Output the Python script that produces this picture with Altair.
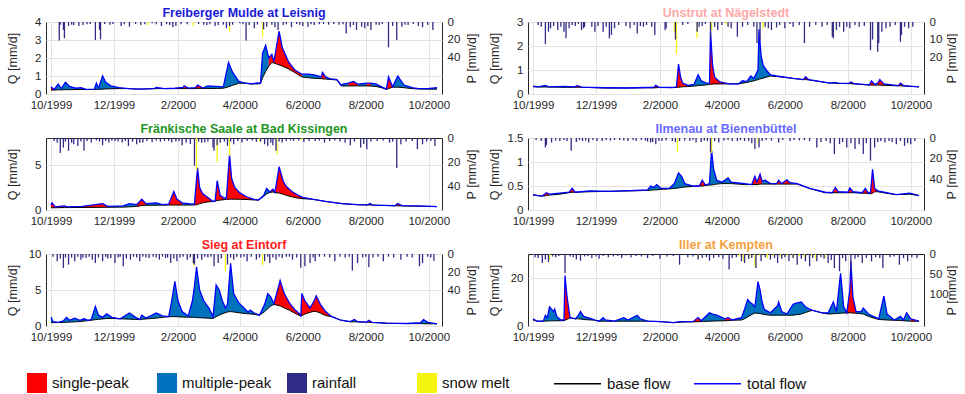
import altair as alt
import pandas as pd

START = pd.Timestamp("1999-10-01")
XTICK_MONTHS = [(1999, 10), (1999, 12), (2000, 2), (2000, 4), (2000, 6), (2000, 8), (2000, 10)]

KINDS = ["single-peak", "multiple-peak", "rainfall", "snow melt"]
KIND_COLORS = ["#FF0000", "#0072BD", "#312A86", "#F5F50F"]
LINES = ["base flow", "total flow"]
LINE_COLORS = ["#000000", "#0000FF"]

TITLES = ["Freiberger Mulde at Leisnig", "Unstrut at Nägelstedt", "Fränkische Saale at Bad Kissingen",
          "Ilmenau at Bienenbüttel", "Sieg at Eintorf", "Iller at Kempten"]
TITLE_COLORS = ["#1A1AD8", "#FFA8A8", "#1F961F", "#6A6AFF", "#FF1A1A", "#F5A040"]
Q_MAX = [4, 3, 8, 1.5, 10, 30]
Q_TICKS = [[0, 1, 2, 3, 4], [0, 1, 2, 3], [0, 5], [0, 0.5, 1, 1.5], [0, 5, 10], [0, 20]]
P_MAX = [82, 41, 60, 70, 80, 180]
P_TICKS = [[0, 20, 40], [0, 10, 20], [0, 20, 40], [0, 20, 40], [0, 20, 40], [0, 50, 100]]

# ---- Freiberger Mulde at Leisnig (days since 1 Oct 1999) ----
MULDE_DAY = [0, 3, 7, 10, 14, 18, 24, 29, 34, 42, 44, 46, 50, 53, 58, 66, 75, 85, 100, 102, 110, 120, 128, 129, 133, 140, 142, 147, 152, 160, 167, 172, 176, 182, 187, 194, 200, 203, 205, 208, 211, 214, 216, 221, 224, 230, 236, 243, 250, 256, 262, 263, 266, 270, 277, 281, 283, 288, 293, 297, 306, 310, 315, 322, 325, 327, 331, 336, 342, 350, 356, 365, 374]
MULDE_Q = [0.40, 0.25, 0.55, 0.30, 0.65, 0.42, 0.32, 0.35, 0.26, 0.27, 0.60, 0.32, 1.00, 0.65, 0.45, 0.35, 0.30, 0.27, 0.30, 0.36, 0.30, 0.32, 0.37, 0.45, 0.33, 0.35, 0.50, 0.33, 0.45, 0.42, 0.40, 1.75, 1.20, 0.70, 0.62, 0.56, 0.62, 0.60, 2.25, 2.70, 2.00, 2.20, 1.80, 3.50, 2.60, 1.80, 1.35, 1.10, 1.10, 1.05, 0.95, 1.20, 0.95, 0.85, 0.80, 0.50, 0.55, 0.60, 0.70, 0.55, 0.60, 0.60, 0.55, 0.35, 0.27, 0.95, 0.40, 1.00, 0.50, 0.35, 0.30, 0.30, 0.35]
MULDE_BASE = [0.22, 0.22, 0.23, 0.23, 0.24, 0.24, 0.25, 0.25, 0.25, 0.25, 0.25, 0.26, 0.27, 0.28, 0.29, 0.30, 0.30, 0.27, 0.30, 0.30, 0.30, 0.30, 0.30, 0.30, 0.30, 0.30, 0.31, 0.31, 0.31, 0.31, 0.32, 0.40, 0.48, 0.60, 0.60, 0.56, 0.56, 0.58, 0.90, 1.25, 1.55, 1.75, 1.72, 1.62, 1.55, 1.40, 1.20, 0.95, 0.90, 0.87, 0.85, 0.84, 0.83, 0.81, 0.78, 0.46, 0.44, 0.45, 0.45, 0.45, 0.45, 0.44, 0.42, 0.32, 0.25, 0.30, 0.38, 0.38, 0.35, 0.30, 0.28, 0.27, 0.27]
MULDE_SINGLE = [(0, 3), (100, 110), (120, 133), (140, 147), (211, 243), (262, 266), (288, 297), (306, 310), (325, 331)]
MULDE_RAIN_DAY = [8, 9, 12, 13, 17, 20, 22, 27, 31, 35, 38, 43, 47, 48, 52, 57, 60, 68, 71, 76, 82, 87, 91, 98, 102, 107, 112, 115, 118, 121, 126, 132, 143, 148, 151, 154, 159, 162, 167, 170, 173, 176, 183, 186, 189, 192, 197, 200, 206, 209, 214, 217, 220, 225, 228, 233, 238, 241, 244, 249, 252, 255, 260, 264, 269, 274, 279, 283, 286, 290, 293, 296, 301, 304, 307, 310, 315, 318, 321, 327, 331, 335, 340, 343, 346, 351, 356, 360, 365, 370]
MULDE_RAIN = [21, 3, 9, 18.6, 4.5, 3, 3.4, 4.5, 3.4, 2.5, 2.3, 20.5, 9, 19.8, 2.3, 3, 2.3, 4.5, 2.5, 5.3, 2.3, 3.4, 2.5, 1.5, 2.5, 4.5, 2.5, 3.4, 6, 4.5, 2.5, 2.5, 2.3, 3, 3.4, 2.5, 4.5, 3.4, 3, 7.2, 4.5, 3, 1.5, 2.5, 21, 3.4, 7, 3, 8.4, 5.3, 3, 6, 9, 3.4, 2.5, 6, 2.3, 3, 4.5, 5.3, 2.5, 3.4, 2.5, 2.3, 3, 2.3, 3, 2.5, 13, 6, 3.4, 9, 5.3, 7, 4.5, 9, 3, 3.4, 2.3, 28.9, 4.5, 20.5, 5.3, 3, 3.4, 2.3, 4.5, 6, 3.4, 9]
MULDE_SNOW_DAY = [94, 138, 173, 205]
MULDE_SNOW = [3.4, 4.5, 11, 16.7]

# ---- Unstrut at Nägelstedt ----
UNSTRUT_DAY = [0, 5, 12, 15, 30, 40, 43, 47, 70, 90, 110, 117, 119, 122, 135, 139, 141, 143, 145, 150, 156, 160, 163, 168, 171, 172, 174, 176, 181, 190, 199, 203, 207, 211, 214, 218, 219, 221, 223, 226, 230, 236, 252, 262, 264, 267, 288, 292, 296, 306, 308, 311, 326, 328, 331, 334, 336, 340, 354, 356, 359, 374]
UNSTRUT_Q = [0.33, 0.30, 0.36, 0.30, 0.32, 0.30, 0.35, 0.29, 0.26, 0.25, 0.27, 0.27, 0.36, 0.28, 0.27, 0.30, 1.25, 0.70, 0.45, 0.36, 0.40, 0.80, 0.55, 0.45, 0.45, 2.60, 1.20, 0.70, 0.50, 0.42, 0.42, 0.55, 0.52, 0.75, 0.65, 1.00, 2.70, 1.60, 1.20, 1.00, 0.80, 0.75, 0.65, 0.60, 0.72, 0.60, 0.45, 0.48, 0.45, 0.44, 0.50, 0.43, 0.38, 0.55, 0.40, 0.45, 0.60, 0.42, 0.35, 0.45, 0.35, 0.30]
UNSTRUT_BASE = [0.30, 0.29, 0.29, 0.29, 0.28, 0.28, 0.28, 0.28, 0.25, 0.25, 0.26, 0.26, 0.26, 0.27, 0.27, 0.27, 0.28, 0.29, 0.30, 0.31, 0.33, 0.35, 0.36, 0.38, 0.40, 0.40, 0.41, 0.42, 0.42, 0.42, 0.42, 0.45, 0.48, 0.52, 0.55, 0.60, 0.62, 0.64, 0.66, 0.70, 0.75, 0.73, 0.65, 0.60, 0.60, 0.59, 0.45, 0.45, 0.44, 0.43, 0.43, 0.42, 0.37, 0.37, 0.37, 0.37, 0.37, 0.36, 0.34, 0.34, 0.33, 0.30]
UNSTRUT_SINGLE = [(40, 47), (117, 122), (139, 150), (171, 190), (262, 267), (306, 311), (326, 331), (334, 340), (354, 359)]
UNSTRUT_RAIN_DAY = [5, 8, 12, 15, 17, 20, 24, 27, 30, 32, 35, 38, 41, 44, 47, 49, 50, 57, 60, 63, 68, 71, 74, 76, 79, 83, 90, 94, 98, 101, 104, 107, 110, 115, 118, 128, 129, 138, 145, 150, 159, 161, 164, 167, 172, 176, 179, 183, 189, 192, 198, 203, 208, 214, 217, 220, 225, 228, 231, 236, 239, 244, 249, 252, 258, 263, 268, 274, 280, 285, 290, 291, 294, 297, 301, 304, 307, 312, 316, 321, 327, 329, 334, 335, 338, 342, 346, 351, 356, 357, 360, 364, 368]
UNSTRUT_RAIN = [1.7, 2.7, 12.5, 5.5, 3.6, 2.3, 4.6, 2.7, 5.5, 9.3, 3.6, 1.7, 2.3, 1.1, 4.6, 3.6, 2.7, 2.7, 5.5, 2.3, 5.5, 2.7, 9.3, 7.4, 3.6, 1.7, 2.3, 3.6, 1.7, 6.5, 2.3, 2.7, 1.7, 2.7, 7.4, 4.6, 3.6, 10, 1.7, 1.1, 5.5, 2.7, 2.3, 1.1, 9.3, 2.7, 4.6, 1.7, 2.7, 3.6, 8.4, 2.7, 1.7, 2.7, 12, 10, 2.7, 3.6, 4.6, 3.1, 1.7, 3.6, 1.1, 2.7, 1.7, 12, 2.7, 1.7, 2.7, 1.7, 8.4, 9.3, 4.6, 2.7, 5.5, 2.7, 3.6, 1.7, 2.7, 2.3, 16, 10, 17, 12, 5.5, 3.6, 2.7, 1.7, 11.2, 7.4, 2.7, 3.6, 2.7]
UNSTRUT_SNOW_DAY = [137, 139, 159, 173, 187, 223]
UNSTRUT_SNOW = [5.5, 17.9, 9.3, 4.6, 1.5, 3.6]

# ---- Fränkische Saale at Bad Kissingen ----
SAALE_DAY = [0, 1, 4, 13, 16, 30, 50, 55, 70, 76, 83, 88, 92, 102, 108, 114, 119, 122, 127, 137, 139, 142, 144, 147, 152, 157, 159, 161, 164, 168, 170, 173, 175, 178, 183, 189, 196, 201, 206, 209, 212, 215, 217, 221, 225, 228, 234, 240, 244, 253, 266, 282, 297, 307, 309, 312, 333, 336, 340, 355, 374]
SAALE_Q = [0.55, 0.80, 0.35, 0.45, 0.35, 0.40, 0.70, 0.40, 0.45, 0.70, 0.60, 1.20, 0.70, 0.80, 0.60, 0.65, 2.05, 1.20, 0.80, 0.65, 0.70, 4.70, 2.50, 1.80, 1.40, 0.95, 1.00, 3.25, 1.60, 1.30, 1.40, 6.20, 3.50, 2.50, 1.90, 1.50, 1.20, 1.10, 1.60, 2.40, 2.00, 2.30, 1.95, 4.80, 3.20, 2.60, 2.00, 1.60, 1.40, 1.20, 0.95, 0.70, 0.60, 0.58, 0.72, 0.55, 0.48, 0.72, 0.48, 0.45, 0.38]
SAALE_BASE = [0.25, 0.25, 0.25, 0.27, 0.27, 0.28, 0.30, 0.30, 0.32, 0.35, 0.40, 0.50, 0.52, 0.53, 0.54, 0.55, 0.55, 0.55, 0.55, 0.55, 0.56, 0.60, 0.70, 0.80, 0.90, 0.95, 1.00, 1.05, 1.10, 1.15, 1.18, 1.20, 1.20, 1.20, 1.19, 1.17, 1.12, 1.10, 1.50, 1.80, 1.95, 2.00, 1.95, 1.88, 1.75, 1.62, 1.45, 1.30, 1.25, 1.20, 0.95, 0.70, 0.58, 0.56, 0.56, 0.55, 0.46, 0.46, 0.45, 0.43, 0.38]
SAALE_SINGLE = [(0, 16), (30, 55), (83, 92), (114, 127), (139, 157), (159, 168), (170, 201), (212, 253), (307, 312), (333, 340)]
SAALE_RAIN_DAY = [3, 6, 9, 12, 14, 17, 20, 22, 26, 29, 32, 35, 39, 44, 47, 50, 53, 56, 59, 62, 65, 69, 72, 75, 79, 83, 86, 89, 93, 98, 102, 106, 110, 114, 117, 121, 124, 127, 131, 135, 139, 143, 146, 149, 152, 157, 158, 161, 164, 168, 171, 174, 177, 181, 185, 190, 195, 199, 203, 207, 210, 213, 215, 218, 221, 224, 228, 232, 235, 240, 245, 250, 256, 260, 265, 270, 275, 280, 285, 290, 294, 300, 303, 306, 310, 316, 322, 328, 331, 335, 339, 344, 350, 355, 360, 364, 368, 372]
SAALE_RAIN = [2.5, 4, 12.6, 8, 3, 10.7, 4, 5.2, 6.6, 3, 10.7, 2.5, 3.8, 2, 3, 6, 2.5, 3.8, 2, 2.5, 3, 3.8, 2.5, 6.6, 3, 5.2, 4, 3.8, 2.5, 3.3, 2, 3, 2.5, 2.5, 3.8, 3, 2.5, 6, 4, 5, 23, 3, 4, 3.8, 3, 8, 10.7, 6, 4, 3, 6.6, 3, 5.2, 2.5, 3.8, 2.5, 2, 3.3, 3, 5.2, 6.6, 4, 6, 10.7, 3, 3.8, 2.5, 2, 2.5, 2, 3.3, 2.5, 2.5, 2, 3.8, 2.5, 2, 3, 4, 6, 3, 8, 5, 9.3, 3, 2.5, 2, 3.8, 3, 25, 5.2, 3, 2.5, 9.3, 5.2, 3, 2.5, 6.6]
SAALE_SNOW_DAY = [141, 161, 173, 202, 219, 243]
SAALE_SNOW = [27, 20, 15, 2.5, 13.4, 1.6]

# ---- Ilmenau at Bienenbüttel ----
ILMENAU_DAY = [0, 5, 9, 13, 16, 26, 35, 38, 41, 55, 75, 100, 111, 114, 117, 120, 124, 132, 137, 141, 144, 147, 155, 161, 164, 167, 171, 173, 175, 178, 183, 189, 192, 205, 212, 215, 217, 220, 222, 225, 230, 236, 238, 241, 246, 249, 256, 268, 283, 290, 293, 296, 305, 307, 310, 319, 322, 325, 327, 329, 331, 334, 345, 352, 365, 374]
ILMENAU_Q = [0.32, 0.30, 0.29, 0.36, 0.33, 0.35, 0.37, 0.45, 0.37, 0.40, 0.39, 0.41, 0.42, 0.50, 0.47, 0.53, 0.45, 0.45, 0.55, 0.77, 0.70, 0.55, 0.50, 0.50, 0.62, 0.52, 0.55, 1.25, 0.85, 0.62, 0.58, 0.67, 0.58, 0.55, 0.53, 0.70, 0.58, 0.75, 0.60, 0.62, 0.55, 0.55, 0.62, 0.55, 0.63, 0.57, 0.55, 0.45, 0.37, 0.36, 0.47, 0.38, 0.37, 0.46, 0.38, 0.36, 0.45, 0.35, 0.37, 0.85, 0.45, 0.40, 0.35, 0.32, 0.35, 0.30]
ILMENAU_BASE = [0.31, 0.30, 0.29, 0.30, 0.31, 0.33, 0.36, 0.37, 0.37, 0.38, 0.39, 0.40, 0.41, 0.41, 0.42, 0.42, 0.43, 0.44, 0.45, 0.46, 0.47, 0.48, 0.49, 0.50, 0.50, 0.51, 0.52, 0.52, 0.53, 0.54, 0.55, 0.55, 0.55, 0.53, 0.53, 0.53, 0.53, 0.54, 0.54, 0.54, 0.54, 0.54, 0.54, 0.54, 0.54, 0.54, 0.54, 0.45, 0.36, 0.36, 0.36, 0.36, 0.36, 0.36, 0.36, 0.35, 0.35, 0.34, 0.34, 0.35, 0.38, 0.38, 0.34, 0.32, 0.33, 0.30]
ILMENAU_SINGLE = [(9, 16), (35, 41), (161, 167), (212, 222), (236, 249), (290, 296), (305, 310), (319, 325), (327, 334)]
ILMENAU_RAIN_DAY = [3, 8, 12, 13, 18, 22, 26, 30, 33, 37, 42, 45, 48, 51, 54, 58, 62, 67, 71, 75, 79, 84, 88, 92, 97, 100, 105, 109, 111, 114, 116, 119, 122, 125, 129, 135, 138, 142, 147, 152, 155, 158, 163, 166, 169, 172, 176, 180, 185, 189, 193, 198, 201, 205, 209, 212, 215, 219, 222, 226, 231, 238, 242, 249, 253, 258, 263, 268, 275, 279, 284, 288, 292, 297, 300, 304, 308, 312, 316, 320, 323, 327, 331, 334, 337, 341, 345, 348, 352, 356, 360, 363, 366, 370]
ILMENAU_RAIN = [2, 3, 9.2, 7, 4.4, 2.5, 2.9, 2, 3, 12.4, 3.8, 2, 2.9, 2.5, 4.4, 2, 3, 2.9, 2, 2.5, 1.9, 2, 2.5, 2.9, 2, 3, 1.9, 2.5, 3.5, 4.4, 4, 6, 3, 2.9, 2.5, 3, 4, 2.9, 2.5, 3, 2, 4.4, 3.8, 2.5, 3, 14, 3, 4.4, 2.5, 2, 2.9, 3, 2, 2.9, 3, 5, 10.8, 9.2, 3, 2, 2.5, 4.4, 2, 2.9, 2, 2.5, 2, 3, 9.2, 4, 3, 5, 15.6, 6, 4, 9.2, 5, 10.8, 6, 15.6, 5, 22, 9.2, 4, 3, 4.4, 3, 4, 6, 3, 7.6, 5, 6, 3]
ILMENAU_SNOW_DAY = [140, 173, 205, 218]
ILMENAU_SNOW = [13.3, 14.6, 2, 5]

# ---- Sieg at Eintorf ----
SIEG_DAY = [0, 2, 7, 12, 15, 18, 23, 28, 32, 36, 39, 43, 46, 50, 54, 59, 67, 76, 82, 86, 88, 92, 102, 108, 114, 117, 120, 123, 127, 133, 137, 139, 141, 144, 148, 153, 157, 160, 163, 166, 169, 171, 174, 177, 182, 187, 191, 193, 197, 202, 207, 210, 213, 216, 222, 226, 231, 236, 240, 242, 243, 246, 251, 255, 257, 261, 266, 272, 281, 290, 294, 297, 306, 308, 311, 325, 345, 358, 361, 365, 374]
SIEG_Q = [1.25, 0.60, 0.50, 0.70, 1.20, 0.80, 1.10, 0.80, 1.00, 0.80, 0.90, 2.70, 1.50, 1.20, 1.70, 1.20, 1.00, 1.80, 1.20, 0.90, 1.50, 1.10, 1.80, 1.40, 1.30, 3.50, 6.20, 3.50, 2.00, 1.40, 3.50, 5.50, 8.20, 5.00, 3.50, 2.50, 1.30, 5.70, 5.00, 3.50, 2.50, 3.00, 8.70, 4.50, 3.20, 2.50, 1.90, 2.20, 1.80, 1.50, 3.00, 4.50, 4.00, 3.10, 6.30, 4.50, 3.20, 2.30, 1.80, 1.40, 4.50, 3.50, 2.50, 3.50, 4.20, 3.00, 2.00, 1.30, 0.80, 0.60, 0.90, 0.60, 0.55, 0.80, 0.50, 0.40, 0.35, 0.45, 0.90, 0.50, 0.30]
SIEG_BASE = [0.47, 0.47, 0.48, 0.50, 0.52, 0.54, 0.58, 0.62, 0.68, 0.75, 0.80, 0.88, 0.93, 0.98, 1.05, 1.05, 1.00, 0.95, 0.92, 0.90, 0.93, 0.98, 1.10, 1.20, 1.28, 1.30, 1.30, 1.28, 1.25, 1.22, 1.20, 1.20, 1.18, 1.15, 1.12, 1.08, 1.05, 1.30, 1.50, 1.70, 1.85, 1.95, 2.00, 1.95, 1.85, 1.75, 1.70, 1.68, 1.60, 1.50, 2.00, 2.40, 2.80, 3.00, 2.80, 2.50, 2.20, 1.80, 1.50, 1.40, 1.45, 1.65, 1.90, 2.05, 2.00, 1.80, 1.45, 1.30, 0.80, 0.58, 0.58, 0.57, 0.53, 0.53, 0.50, 0.38, 0.33, 0.32, 0.32, 0.31, 0.30]
SIEG_SINGLE = [(216, 272), (306, 311)]
SIEG_RAIN_DAY = [2, 6, 9, 12, 14, 17, 20, 23, 26, 29, 31, 34, 37, 40, 43, 46, 50, 53, 55, 58, 62, 65, 67, 70, 73, 77, 80, 83, 86, 89, 92, 95, 99, 102, 105, 108, 111, 113, 116, 119, 122, 125, 128, 132, 135, 138, 139, 142, 146, 149, 152, 155, 158, 162, 165, 171, 174, 177, 180, 184, 187, 190, 194, 199, 202, 207, 210, 212, 215, 218, 221, 224, 228, 231, 234, 238, 242, 246, 251, 254, 256, 260, 265, 270, 275, 280, 285, 289, 292, 297, 302, 305, 308, 312, 317, 322, 327, 332, 339, 345, 350, 357, 360, 365, 368, 371]
SIEG_RAIN = [3, 8, 5, 15.4, 4, 11.8, 4, 8, 3, 6.3, 4, 4.4, 3, 6.3, 10, 4, 8, 3, 5, 4.4, 10, 4, 3, 13.6, 5, 6.3, 3, 4, 8, 3, 4, 4.4, 3, 4, 6.3, 3, 4.4, 4, 10, 5, 8, 4, 3, 6.3, 4, 10, 11.8, 5, 6.3, 3, 4, 3, 13.6, 10, 5, 11.8, 4, 6.3, 3, 4, 3, 8, 3, 6.3, 4, 8, 3, 10, 4, 6.3, 3, 4.4, 3, 3, 6.3, 4, 15.4, 13.6, 10, 4, 8, 3, 3, 4, 8, 3, 4, 3, 18.4, 10, 4, 3, 14.7, 4, 3, 8, 3, 4, 6.3, 3, 4, 13.6, 10, 3, 4, 7.4]
SIEG_SNOW_DAY = [138, 169, 180, 205]
SIEG_SNOW = [12.5, 19, 3, 12.5]

# ---- Iller at Kempten ----
ILLER_DAY = [0, 4, 10, 12, 14, 15, 16, 18, 20, 21, 23, 27, 30, 31, 33, 35, 36, 41, 44, 46, 49, 57, 60, 64, 68, 70, 79, 88, 92, 101, 104, 111, 124, 136, 142, 155, 160, 163, 171, 174, 178, 186, 189, 193, 202, 205, 208, 210, 213, 215, 218, 220, 222, 224, 230, 237, 238, 241, 246, 252, 255, 260, 264, 268, 271, 280, 286, 291, 294, 298, 301, 304, 307, 308, 310, 313, 318, 320, 325, 335, 340, 343, 350, 356, 359, 362, 366, 374]
ILLER_Q = [3.0, 2.0, 2.0, 4.5, 3.5, 6.0, 8.0, 7.0, 6.0, 7.0, 4.0, 2.5, 2.5, 21.0, 12.0, 6.0, 3.5, 3.0, 4.5, 6.0, 4.0, 3.0, 2.5, 2.0, 3.5, 2.5, 2.0, 3.5, 2.5, 4.5, 3.0, 2.0, 1.8, 1.4, 1.8, 1.8, 3.5, 2.2, 5.5, 5.0, 4.5, 3.0, 3.5, 2.5, 3.5, 7.0, 11.0, 10.0, 9.0, 8.0, 18.5, 15.0, 10.0, 7.0, 5.5, 8.5, 10.0, 6.0, 5.0, 9.0, 9.5, 10.0, 8.0, 7.0, 6.5, 5.5, 5.5, 10.0, 6.0, 22.0, 8.0, 5.5, 15.0, 27.0, 12.0, 6.0, 6.0, 7.5, 5.0, 3.0, 12.5, 5.0, 2.5, 4.0, 2.5, 5.5, 3.0, 2.0]
ILLER_BASE = [2.5, 2.0, 2.0, 2.05, 2.1, 2.1, 2.1, 2.15, 2.15, 2.15, 2.2, 2.2, 2.2, 2.4, 2.8, 3.2, 3.4, 3.0, 3.0, 2.9, 2.7, 2.5, 2.4, 2.0, 2.0, 2.0, 2.0, 2.0, 2.0, 2.0, 2.0, 2.0, 1.8, 1.4, 1.6, 1.75, 1.8, 1.85, 2.0, 2.05, 2.1, 2.2, 2.25, 2.4, 2.5, 3.0, 3.8, 4.3, 5.0, 5.4, 5.3, 5.2, 5.0, 4.8, 4.5, 4.5, 4.5, 4.5, 4.5, 4.5, 4.7, 5.0, 5.6, 6.2, 6.5, 5.5, 5.0, 5.1, 5.2, 5.3, 5.4, 5.45, 5.5, 5.5, 5.4, 5.3, 5.1, 5.0, 4.0, 2.7, 2.6, 2.5, 2.4, 2.3, 2.2, 2.1, 2.0, 2.0]
ILLER_SINGLE = [(30, 36), (155, 163), (186, 193), (268, 280), (304, 313), (366, 374)]
ILLER_RAIN_DAY = [2, 5, 9, 12, 15, 19, 22, 25, 31, 36, 39, 42, 46, 50, 53, 57, 61, 64, 68, 73, 78, 82, 86, 90, 95, 100, 105, 111, 116, 123, 130, 136, 142, 150, 155, 160, 164, 168, 171, 175, 180, 184, 190, 193, 197, 202, 205, 209, 212, 216, 221, 225, 230, 234, 237, 241, 244, 248, 252, 256, 260, 264, 268, 271, 275, 279, 282, 286, 289, 292, 297, 300, 303, 308, 312, 315, 319, 323, 328, 332, 336, 339, 346, 350, 355, 359, 363, 367, 372]
ILLER_RAIN = [8, 10, 22.5, 14, 20, 6, 8, 5, 47.5, 6, 8, 14, 16.7, 6, 5, 10, 6, 11.7, 5, 8.3, 6, 5, 10, 4, 8.3, 5, 6, 10, 5, 11.7, 6, 5, 26.7, 8, 6, 14, 10, 8, 16.7, 10, 8, 12, 39, 10, 8, 18.3, 22.5, 12, 10, 35, 18.3, 8, 14, 10, 22.5, 12, 8, 18.3, 10, 26.7, 12, 18.3, 30.8, 10, 18.3, 8, 12, 22.5, 15, 35, 43, 10, 18.3, 43, 12, 8, 22.5, 10, 18.3, 8, 10, 35, 8, 6, 26.7, 10, 18.3, 8, 10]
ILLER_SNOW_DAY = [16, 160, 200, 204, 210, 215, 220, 227, 233, 240, 247, 252, 258, 263, 270, 274, 279, 283]
ILLER_SNOW = [14, 10, 6, 18, 8, 31, 6, 10, 5, 8, 6, 9, 5, 8, 6, 12, 5, 10]

SERIES = [
    (MULDE_DAY, MULDE_Q, MULDE_BASE, MULDE_SINGLE, MULDE_RAIN_DAY, MULDE_RAIN, MULDE_SNOW_DAY, MULDE_SNOW),
    (UNSTRUT_DAY, UNSTRUT_Q, UNSTRUT_BASE, UNSTRUT_SINGLE, UNSTRUT_RAIN_DAY, UNSTRUT_RAIN, UNSTRUT_SNOW_DAY, UNSTRUT_SNOW),
    (SAALE_DAY, SAALE_Q, SAALE_BASE, SAALE_SINGLE, SAALE_RAIN_DAY, SAALE_RAIN, SAALE_SNOW_DAY, SAALE_SNOW),
    (ILMENAU_DAY, ILMENAU_Q, ILMENAU_BASE, ILMENAU_SINGLE, ILMENAU_RAIN_DAY, ILMENAU_RAIN, ILMENAU_SNOW_DAY, ILMENAU_SNOW),
    (SIEG_DAY, SIEG_Q, SIEG_BASE, SIEG_SINGLE, SIEG_RAIN_DAY, SIEG_RAIN, SIEG_SNOW_DAY, SIEG_SNOW),
    (ILLER_DAY, ILLER_Q, ILLER_BASE, ILLER_SINGLE, ILLER_RAIN_DAY, ILLER_RAIN, ILLER_SNOW_DAY, ILLER_SNOW),
]

FONT = "Liberation Sans"
TXT = "#262626"
PW, PH = 396, 72


def to_date(d):
    return (START + pd.Timedelta(days=float(d))).strftime("%Y-%m-%dT%H:%M:%S")


def area_frame(days, q, base, singles):
    rows, grp, prev = [], 0, None
    for i in range(len(days) - 1):
        kind = "single-peak" if any(a <= days[i] < b for a, b in singles) else "multiple-peak"
        if kind != prev:
            grp += 1
            rows.append((grp, kind, to_date(days[i]), q[i], base[i]))
            prev = kind
        rows.append((grp, kind, to_date(days[i + 1]), q[i + 1], base[i + 1]))
    return pd.DataFrame(rows, columns=["grp", "kind", "date", "q", "b"])


def line_frame(days, vals, name):
    return pd.DataFrame({"date": [to_date(d) for d in days], "v": vals, "series": name})


def bar_frame(days, vals, name):
    return pd.DataFrame({"date": [to_date(d) for d in days], "p": vals, "kind": name})


XSCALE = alt.Scale(domain=[alt.DateTime(year=1999, month=10, date=1),
                           alt.DateTime(year=2000, month=10, date=9)])
XAXIS = alt.Axis(values=[alt.DateTime(year=y, month=m, date=1) for y, m in XTICK_MONTHS],
                 format="%-m/%Y", labelAngle=0, labelFlush=False, labelOverlap=False,
                 grid=True, ticks=False, domain=False, labelPadding=5)

COLOR = alt.Color("kind:N", title=None,
                  scale=alt.Scale(domain=KINDS, range=KIND_COLORS),
                  legend=alt.Legend(orient="none", direction="horizontal", legendX=-19, legendY=351,
                                    symbolType="square", symbolSize=400, symbolStrokeWidth=0,
                                    labelFontSize=15, labelOffset=5, columnPadding=15,
                                    gridAlign="all",
                                    labelFont=FONT, labelColor="#111111", padding=0))
STROKE = alt.Stroke("series:N", title=None,
                    scale=alt.Scale(domain=LINES, range=LINE_COLORS),
                    legend=alt.Legend(orient="none", direction="horizontal", legendX=507, legendY=337,
                                      symbolType="stroke", symbolSize=2209, symbolStrokeWidth=1.5,
                                      labelFontSize=15, labelOffset=5, columnPadding=20,
                                      labelFont=FONT, labelColor="#111111", padding=0))


def panel(i):
    days, q, base, singles, rd, rv, sd, sv = SERIES[i]
    x = alt.X("date:T", title=None, scale=XSCALE, axis=XAXIS)
    qscale = alt.Scale(domain=[0, Q_MAX[i]], nice=False, zero=True)
    qaxis = alt.Axis(values=Q_TICKS[i], format=".2~f", grid=True, ticks=False, domain=False,
                     labelPadding=5, title="Q [mm/d]", titleX=-27, titleY=PH / 2,
                     titleAngle=270, titleAlign="center", titleBaseline="bottom")
    pscale = alt.Scale(domain=[0, P_MAX[i]], reverse=True, nice=False, zero=True)
    paxis = alt.Axis(orient="right", values=P_TICKS[i], format="d", grid=False, ticks=False,
                     domain=False, labelPadding=5, title="P [mm/d]",
                     titleX=36 if i % 2 == 0 else 34,
                     titleY=PH / 2, titleAngle=270, titleAlign="center", titleBaseline="bottom")

    area = alt.Chart(area_frame(days, q, base, singles)).mark_area(interpolate="linear").encode(
        x=x, y=alt.Y("q:Q", scale=qscale, axis=qaxis, stack=None), y2=alt.Y2("b:Q"),
        color=COLOR, detail="grp:N")
    base_line = alt.Chart(line_frame(days, base, "base flow")).mark_line(strokeWidth=1).encode(
        x=x, y=alt.Y("v:Q", scale=qscale, axis=qaxis), stroke=STROKE)
    total_line = alt.Chart(line_frame(days, q, "total flow")).mark_line(strokeWidth=1.3).encode(
        x=x, y=alt.Y("v:Q", scale=qscale, axis=qaxis), stroke=STROKE)
    snow = alt.Chart(bar_frame(sd, sv, "snow melt")).mark_bar(width=1.3).encode(
        x=x, y=alt.Y("p:Q", scale=pscale, axis=paxis, stack=None), color=COLOR)
    rain = alt.Chart(bar_frame(rd, rv, "rainfall")).mark_bar(width=1.3).encode(
        x=x, y=alt.Y("p:Q", scale=pscale, axis=paxis, stack=None), color=COLOR)

    qlayer = alt.layer(area, base_line, total_line)
    player = alt.layer(snow, rain)
    return alt.layer(qlayer, player).resolve_scale(y="independent").properties(
        width=PW, height=PH,
        title=alt.TitleParams(TITLES[i], color=TITLE_COLORS[i], font=FONT, fontSize=12.5,
                              fontWeight="bold", offset=-3, anchor="middle"))


chart = alt.concat(*[panel(i) for i in range(6)], columns=2,
                   spacing={"row": 44, "column": 86}, bounds="flush").resolve_scale(
    color="shared", stroke="shared"
).properties(
    padding={"left": 5, "top": 6, "right": 0, "bottom": 1},
    background="white",
).configure_view(
    stroke=TXT, strokeWidth=1
).configure_axis(
    labelFont=FONT, labelFontSize=11.5, labelColor=TXT,
    titleFont=FONT, titleFontSize=12.5, titleColor=TXT, titleFontWeight="normal",
    gridColor="#e3e3e3", gridWidth=1
).configure_legend(
    labelFont=FONT
)

chart.save("out.html", embed_options={"renderer": "svg", "actions": False})
